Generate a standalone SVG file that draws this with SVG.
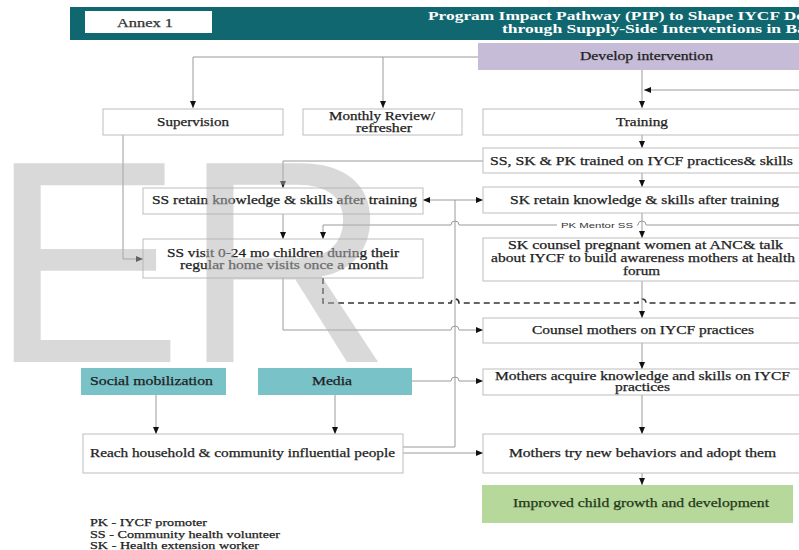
<svg xmlns="http://www.w3.org/2000/svg" width="799" height="550" viewBox="0 0 799 550">
<defs>
<marker id="ah" markerWidth="7" markerHeight="6" refX="7" refY="3" orient="auto" markerUnits="userSpaceOnUse">
<path d="M0,0 L7,3 L0,6 z" fill="#111"/>
</marker>
<style>
.box{fill:#fff;stroke:#bdbdbd;stroke-width:1}
.t{font-family:"Liberation Serif","Times New Roman",serif;font-size:12px;fill:#1e1e1e;stroke:#1e1e1e;stroke-width:0.25}
.c{fill:none;stroke:#9a9a9a;stroke-width:1}
.a{marker-end:url(#ah)}
.d{fill:none;stroke:#333;stroke-width:1.6;stroke-dasharray:6 4}
</style>
</defs>
<rect width="799" height="550" fill="#fff"/>

<g id="header">
<rect x="70" y="7" width="730" height="33" fill="#11676f"/>
<rect x="85" y="11" width="127" height="22" fill="#fff"/>
<text class="t" x="117" y="27" textLength="56" lengthAdjust="spacingAndGlyphs" style="fill:#333;stroke:#333">Annex 1</text>
<text x="428" y="20" textLength="376" lengthAdjust="spacingAndGlyphs" style="font-family:'Liberation Serif',serif;font-size:11.5px;font-weight:bold;fill:#fff">Program Impact Pathway (PIP) to Shape IYCF De</text>
<text x="502" y="33" textLength="304" lengthAdjust="spacingAndGlyphs" style="font-family:'Liberation Serif',serif;font-size:11.5px;font-weight:bold;fill:#fff">through Supply-Side Interventions in Ba</text>
</g>

<g id="connectors">
<path class="c a" d="M478,57 H193 V108"/>
<path class="c a" d="M383,57 V108"/>
<path class="c a" d="M642,70 V108"/>
<path class="c a" d="M800,90 H644"/>
<path class="c a" d="M642,135 V148"/>
<path class="c a" d="M642,173 V187"/>
<path class="c a" d="M483,161 H283 V188"/>
<path class="c a" d="M642,213 V238"/>
<path class="c a" d="M800,225 H646 A4,4 0 0 0 638,225 H459 A4,4 0 0 0 451,225 H323 V239"/>
<path class="c a" d="M283,214 V239"/>
<path class="c a" d="M123,135 V259 H143"/>
<path class="c" d="M403,447 H455 V200"/>
<path class="c a" d="M455,200 H423"/>
<path class="c a" d="M455,200 H483"/>
<path class="d" d="M323,278 V303 H451 A4,4 0 0 1 459,303 H638 A4,4 0 0 1 646,303 H800"/>
<path class="c a" d="M283,278 V330 H451 A4,4 0 0 1 459,330 H483"/>
<path class="c a" d="M642,281 V318"/>
<path class="c a" d="M642,343 V369"/>
<path class="c a" d="M412,381 H451 A4,4 0 0 1 459,381 H483"/>
<path class="c a" d="M642,395 V434"/>
<path class="c a" d="M403,453 H483"/>
<path class="c a" d="M642,473 V485"/>
<path class="c a" d="M156,395 V434"/>
<path class="c a" d="M335,395 V434"/>
<rect x="557" y="220" width="80" height="10" fill="#fff"/>
<text x="561" y="228" textLength="72" lengthAdjust="spacingAndGlyphs" style="font-family:'Liberation Sans',Arial,sans-serif;font-size:8px;fill:#333">PK Mentor SS</text>
</g>

<g id="develop">
<rect x="478" y="43" width="322" height="27" fill="#c6bcd7"/>
<text class="t" x="580" y="60" textLength="133" lengthAdjust="spacingAndGlyphs">Develop intervention</text>
</g>

<g id="supervision">
<rect class="box" x="103" y="109" width="180" height="26"/>
<text class="t" x="157" y="126" textLength="72" lengthAdjust="spacingAndGlyphs">Supervision</text>
</g>

<g id="monthly">
<rect class="box" x="303" y="109" width="159" height="26"/>
<text class="t" x="329" y="120" textLength="106" lengthAdjust="spacingAndGlyphs">Monthly Review/</text>
<text class="t" x="356" y="132" textLength="56" lengthAdjust="spacingAndGlyphs">refresher</text>
</g>

<g id="training">
<rect class="box" x="483" y="109" width="320" height="26"/>
<text class="t" x="616" y="126" textLength="52" lengthAdjust="spacingAndGlyphs">Training</text>
</g>

<g id="trained">
<rect class="box" x="483" y="148" width="320" height="25"/>
<text class="t" x="490" y="165" textLength="303" lengthAdjust="spacingAndGlyphs">SS, SK &amp; PK trained on IYCF practices&amp; skills</text>
</g>

<g id="ss-retain">
<rect class="box" x="143" y="188" width="280" height="26"/>
<text class="t" x="152" y="204" textLength="265" lengthAdjust="spacingAndGlyphs">SS retain knowledge &amp; skills after training</text>
</g>

<g id="sk-retain">
<rect class="box" x="483" y="187" width="320" height="26"/>
<text class="t" x="510" y="204" textLength="269" lengthAdjust="spacingAndGlyphs">SK retain knowledge &amp; skills after training</text>
</g>

<g id="ss-visit">
<rect class="box" x="143" y="239" width="280" height="39"/>
<text class="t" x="167" y="257" textLength="232" lengthAdjust="spacingAndGlyphs">SS visit 0-24 mo children during their</text>
<text class="t" x="180" y="269" textLength="208" lengthAdjust="spacingAndGlyphs">regular home visits once a month</text>
</g>

<g id="sk-counsel">
<rect class="box" x="483" y="238" width="320" height="43"/>
<text class="t" x="508" y="249" textLength="275" lengthAdjust="spacingAndGlyphs">SK counsel pregnant women at ANC&amp; talk</text>
<text class="t" x="491" y="262" textLength="304" lengthAdjust="spacingAndGlyphs">about IYCF to build awareness mothers at health</text>
<text class="t" x="623" y="275" textLength="37" lengthAdjust="spacingAndGlyphs">forum</text>
</g>

<g id="counsel-mothers">
<rect class="box" x="483" y="318" width="320" height="25"/>
<text class="t" x="532" y="334" textLength="222" lengthAdjust="spacingAndGlyphs">Counsel mothers on IYCF practices</text>
</g>

<g id="social">
<rect x="81" y="368" width="145" height="27" fill="#79c2c7"/>
<text class="t" x="90" y="385" textLength="123" lengthAdjust="spacingAndGlyphs">Social mobilization</text>
</g>

<g id="media">
<rect x="258" y="368" width="154" height="27" fill="#79c2c7"/>
<text class="t" x="312" y="385" textLength="40" lengthAdjust="spacingAndGlyphs">Media</text>
</g>

<g id="mothers-acquire">
<rect class="box" x="483" y="369" width="320" height="26"/>
<text class="t" x="495" y="380" textLength="295" lengthAdjust="spacingAndGlyphs">Mothers acquire knowledge and skills on IYCF</text>
<text class="t" x="615" y="391" textLength="55" lengthAdjust="spacingAndGlyphs">practices</text>
</g>

<g id="reach">
<rect class="box" x="83" y="434" width="320" height="39"/>
<text class="t" x="90" y="457" textLength="305" lengthAdjust="spacingAndGlyphs">Reach household &amp; community influential people</text>
</g>

<g id="mothers-try">
<rect class="box" x="483" y="434" width="320" height="39"/>
<text class="t" x="509" y="457" textLength="267" lengthAdjust="spacingAndGlyphs">Mothers try new behaviors and adopt them</text>
</g>

<g id="improved">
<rect x="482" y="485" width="311" height="38" fill="#b6d99b"/>
<text class="t" x="513" y="507" textLength="256" lengthAdjust="spacingAndGlyphs" style="fill:#243818;stroke:#243818">Improved child growth and development</text>
</g>

<g id="legend">
<text class="t" x="90" y="526" textLength="117" lengthAdjust="spacingAndGlyphs" style="font-size:11px">PK - IYCF promoter</text>
<text class="t" x="90" y="538" textLength="190" lengthAdjust="spacingAndGlyphs" style="font-size:11px">SS - Community health volunteer</text>
<text class="t" x="90" y="549" textLength="169" lengthAdjust="spacingAndGlyphs" style="font-size:11px">SK - Health extension worker</text>
</g>

<text x="-10" y="362" style="font-family:'Liberation Sans',Arial,sans-serif;font-size:289px;fill:#b4b4b4;opacity:0.5">ER</text>
</svg>
